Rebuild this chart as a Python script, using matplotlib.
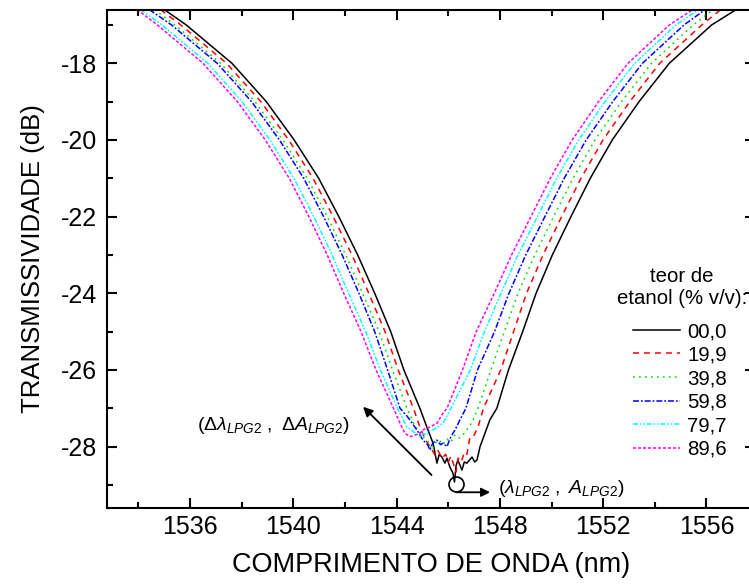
import matplotlib
matplotlib.use("Agg")
import matplotlib.pyplot as plt
from matplotlib.ticker import MultipleLocator

plt.rcParams["font.family"] = ["Liberation Sans", "DejaVu Sans"]
plt.rcParams["mathtext.fontset"] = "custom"
plt.rcParams["mathtext.rm"] = "Liberation Sans"
plt.rcParams["mathtext.it"] = "Liberation Sans:italic"
plt.rcParams["lines.scale_dashes"] = False
plt.rcParams["axes.unicode_minus"] = False

# transmission levels (dB) at which both flanks of the dip are sampled
levels = [-16.6, -17, -18, -19, -20, -21, -22, -23, -24, -25, -26, -27]

# wavelength (nm) of the short-wavelength flank at each level
left_00 = [1535.00, 1535.85, 1537.62, 1538.95, 1540.03, 1540.98, 1541.76, 1542.49, 1543.15, 1543.77, 1544.28, 1544.90]
left_19 = [1534.85, 1535.64, 1537.41, 1538.74, 1539.82, 1540.76, 1541.54, 1542.27, 1542.92, 1543.55, 1544.06, 1544.65]
left_39 = [1534.62, 1535.41, 1537.18, 1538.51, 1539.59, 1540.54, 1541.31, 1542.03, 1542.68, 1543.32, 1543.84, 1544.40]
left_59 = [1534.42, 1535.28, 1537.05, 1538.38, 1539.46, 1540.40, 1541.17, 1541.89, 1542.54, 1543.15, 1543.65, 1544.13]
left_79 = [1534.08, 1534.91, 1536.68, 1538.01, 1539.09, 1540.02, 1540.79, 1541.50, 1542.14, 1542.80, 1543.37, 1544.03]
left_89 = [1533.95, 1534.73, 1536.50, 1537.83, 1538.91, 1539.84, 1540.60, 1541.31, 1541.95, 1542.62, 1543.20, 1543.88]

# wavelength (nm) of the long-wavelength flank at each level
right_00 = [1557.15, 1556.20, 1554.56, 1553.39, 1552.35, 1551.50, 1550.75, 1550.03, 1549.40, 1548.88, 1548.33, 1547.88]
right_19 = [1556.55, 1555.82, 1554.19, 1553.03, 1551.99, 1551.14, 1550.39, 1549.67, 1549.03, 1548.53, 1548.03, 1547.36]
right_39 = [1556.25, 1555.49, 1553.87, 1552.71, 1551.68, 1550.83, 1550.08, 1549.35, 1548.70, 1548.17, 1547.65, 1547.15]
right_59 = [1555.95, 1555.13, 1553.52, 1552.37, 1551.34, 1550.49, 1549.74, 1549.00, 1548.35, 1547.79, 1547.13, 1546.68]
right_79 = [1555.68, 1554.82, 1553.22, 1552.07, 1551.05, 1550.20, 1549.45, 1548.70, 1548.04, 1547.40, 1546.85, 1546.10]
right_89 = [1555.47, 1554.56, 1552.96, 1551.82, 1550.80, 1549.95, 1549.20, 1548.45, 1547.78, 1547.08, 1546.55, 1545.95]

# noisy bottom of each dip (between the two -27 dB points)
bottom_wl_00 = [1545.17, 1545.41, 1545.56, 1545.65, 1545.75, 1545.87, 1545.95, 1546.06, 1546.18, 1546.24, 1546.30,
                1546.37, 1546.53, 1546.62, 1546.72, 1546.92, 1547.02, 1547.11, 1547.23, 1547.42, 1547.61]
bottom_tr_00 = [-27.49, -27.91, -28.43, -28.20, -28.27, -28.43, -28.30, -28.53, -28.69, -28.92, -28.50,
                -28.35, -28.61, -28.40, -28.43, -28.27, -28.40, -28.35, -28.00, -27.65, -27.30]
bottom_wl_19 = [1544.90, 1545.10, 1545.29, 1545.49, 1545.60, 1545.75, 1545.90, 1546.00, 1546.10, 1546.20, 1546.30,
                1546.38, 1546.50, 1546.62, 1546.72, 1546.84, 1547.00, 1547.15]
bottom_tr_19 = [-27.49, -27.80, -28.00, -28.22, -28.10, -28.30, -28.20, -28.40, -28.25, -28.45, -28.66,
                -28.30, -28.40, -28.15, -28.20, -27.75, -27.70, -27.49]
bottom_wl_39 = [1544.70, 1544.95, 1545.20, 1545.37, 1545.50, 1545.65, 1545.80, 1545.95, 1546.10, 1546.25, 1546.40,
                1546.55, 1546.65, 1546.80, 1546.96]
bottom_tr_39 = [-27.45, -27.70, -27.85, -28.09, -27.90, -27.83, -27.95, -27.80, -27.88, -27.70, -27.78,
                -27.72, -27.60, -27.50, -27.30]
bottom_wl_59 = [1544.40, 1544.79, 1545.02, 1545.20, 1545.29, 1545.40, 1545.56, 1545.70, 1545.79, 1545.95, 1546.06,
                1546.18, 1546.26, 1546.45]
bottom_tr_59 = [-27.20, -27.57, -27.83, -27.95, -28.09, -27.90, -27.83, -27.95, -27.91, -28.00, -27.80,
                -27.65, -27.57, -27.30]
bottom_wl_79 = [1544.40, 1544.63, 1544.90, 1545.02, 1545.17, 1545.29, 1545.45, 1545.56, 1545.79, 1545.95]
bottom_tr_79 = [-27.49, -27.60, -27.74, -27.65, -27.70, -27.57, -27.55, -27.49, -27.39, -27.20]
bottom_wl_89 = [1544.13, 1544.32, 1544.52, 1544.70, 1544.90, 1545.05, 1545.29, 1545.56, 1545.79]
bottom_tr_89 = [-27.39, -27.65, -27.74, -27.70, -27.65, -27.55, -27.49, -27.39, -27.13]

labels = ["00,0", "19,9", "39,8", "59,8", "79,7", "89,6"]
colors = ["black", "#ff0000", "#00e000", "#0000ff", "#00ffff", "#ff00ff"]
styles = ["-", (0, (4.3, 3.6)), (0, (1.3, 3.0)), (0, (4.3, 1.4, 1.3, 1.4)),
          (0, (3.6, 1.3, 1.2, 1.3, 1.2, 1.3)), (0, (2.2, 1.4))]

# the circled minimum and its arrow
lpg_min = (1546.29, -28.98)
shift_arrow = ((1545.35, -28.74), (1542.70, -26.96))
min_arrow = ((1546.32, -29.19), (1547.62, -29.19))


def build_curve(left, bottom_wl, bottom_tr, right):
    wl = left + bottom_wl + right[::-1]
    tr = levels + bottom_tr + levels[::-1]
    return wl, tr


curves = [
    build_curve(left_00, bottom_wl_00, bottom_tr_00, right_00),
    build_curve(left_19, bottom_wl_19, bottom_tr_19, right_19),
    build_curve(left_39, bottom_wl_39, bottom_tr_39, right_39),
    build_curve(left_59, bottom_wl_59, bottom_tr_59, right_59),
    build_curve(left_79, bottom_wl_79, bottom_tr_79, right_79),
    build_curve(left_89, bottom_wl_89, bottom_tr_89, right_89),
]

W, H = 749, 584
fig = plt.figure(figsize=(W / 100, H / 100), dpi=100)
ax = fig.add_axes([107 / W, (H - 508) / H, 648 / W, 498 / H])

for (wl, tr), lab, col, ls in zip(curves, labels, colors, styles):
    ax.plot(wl, tr, color=col, linestyle=ls, linewidth=1.1, label=lab)

ax.set_xlim(1532.78, 1557.88)
ax.set_ylim(-29.60, -16.61)
ax.xaxis.set_major_locator(MultipleLocator(4))
ax.xaxis.set_minor_locator(MultipleLocator(2))
ax.yaxis.set_major_locator(MultipleLocator(2))
ax.yaxis.set_minor_locator(MultipleLocator(1))
ax.tick_params(which="both", direction="in", top=True, right=True, width=1.5, labelsize=18)
ax.tick_params(which="major", length=7.5)
ax.tick_params(which="minor", length=4)
ax.tick_params(axis="x", pad=5)
ax.tick_params(axis="y", pad=7)
for sp in ax.spines.values():
    sp.set_linewidth(1.5)

fig.text(33.5 / W, 1 - 259 / H, "TRANSMISSIVIDADE (dB)", rotation=90,
         ha="center", va="center", fontsize=18.5)
fig.text(431 / W, 1 - 565 / H, "COMPRIMENTO DE ONDA (nm)",
         ha="center", va="center", fontsize=19.5)

# annotations
ax.plot(*lpg_min, marker="o", markersize=10.8, markerfacecolor="none",
        markeredgecolor="black", markeredgewidth=1.2)
ax.annotate("", xy=min_arrow[1], xytext=min_arrow[0],
            arrowprops=dict(arrowstyle="-|>", color="black", lw=1.3, mutation_scale=13,
                            shrinkA=0, shrinkB=0))
ax.annotate("", xy=shift_arrow[1], xytext=shift_arrow[0],
            arrowprops=dict(arrowstyle="-|>", color="black", lw=1.3, mutation_scale=14,
                            shrinkA=0, shrinkB=0))
ax.text(1547.92, -29.21, r"$(\lambda_{\mathit{LPG2}}\ ,\ A_{\mathit{LPG2}})$",
        ha="left", va="baseline", fontsize=14)
ax.text(1536.25, -27.57, r"$(\Delta\lambda_{\mathit{LPG2}}\ ,\ \Delta A_{\mathit{LPG2}})$",
        ha="left", va="baseline", fontsize=14)

fig.text(682 / W, 1 - 287 / H, "teor de\netanol (% v/v):", ha="center", va="center",
         multialignment="center", fontsize=14.7)
ax.legend(loc="upper left", bbox_to_anchor=(633 / W, 1 - 322 / H), bbox_transform=fig.transFigure,
          frameon=False, fontsize=14.7, handlelength=2.3, handletextpad=0.35,
          labelspacing=0.225, borderpad=0, borderaxespad=0)

fig.savefig("out.png", dpi=100)
